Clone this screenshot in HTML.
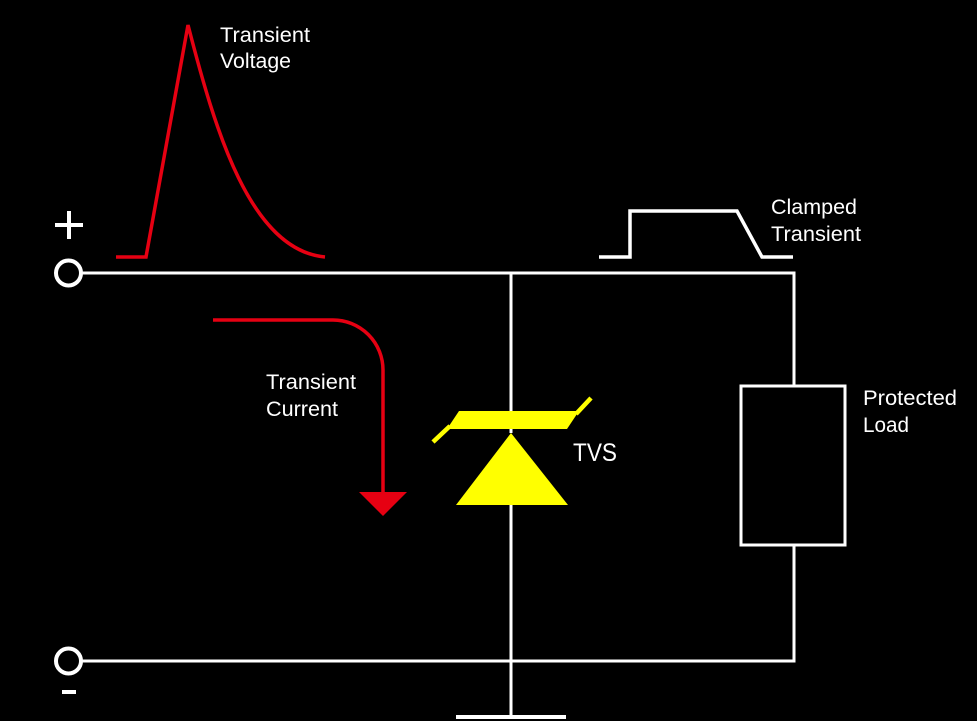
<!DOCTYPE html>
<html>
<head>
<meta charset="utf-8">
<style>
  html, body { margin:0; padding:0; background:#000; }
  body { width:977px; height:721px; overflow:hidden; }
  svg { display:block; }
  text { font-family: "Liberation Sans", "DejaVu Sans", sans-serif; fill:#fff; }
</style>
</head>
<body>
<svg width="977" height="721" viewBox="0 0 977 721" xmlns="http://www.w3.org/2000/svg">
  <rect width="977" height="721" fill="#000"/>

  <!-- Wires -->
  <g stroke="#fff" stroke-width="3" fill="none">
    <line x1="81" y1="273" x2="795.5" y2="273"/>
    <line x1="794" y1="273" x2="794" y2="386"/>
    <line x1="794" y1="545" x2="794" y2="662.5"/>
    <line x1="81" y1="661" x2="795.5" y2="661"/>
    <line x1="511" y1="273" x2="511" y2="433"/>
    <line x1="511" y1="505" x2="511" y2="717"/>
    <rect x="741" y="386" width="104" height="159"/>
  </g>
  <!-- Ground bar -->
  <line x1="456" y1="717" x2="566" y2="717" stroke="#fff" stroke-width="4"/>

  <!-- Terminals -->
  <circle cx="68.5" cy="273" r="12.5" stroke="#fff" stroke-width="4" fill="#000"/>
  <circle cx="68.5" cy="661" r="12.5" stroke="#fff" stroke-width="4" fill="#000"/>
  <!-- Plus -->
  <line x1="55" y1="225" x2="83" y2="225" stroke="#fff" stroke-width="4"/>
  <line x1="69" y1="211" x2="69" y2="239" stroke="#fff" stroke-width="4"/>
  <!-- Minus -->
  <line x1="62" y1="692" x2="76" y2="692" stroke="#fff" stroke-width="4"/>

  <!-- Transient voltage waveform -->
  <path d="M116,257 H146 L188,25 C215,130 250,250 325,257" stroke="#e60012" stroke-width="3.5" fill="none" stroke-linejoin="miter"/>

  <!-- Clamped transient waveform -->
  <path d="M599,257 H630 V211 H737 L762,257 H793" stroke="#fff" stroke-width="3.5" fill="none"/>

  <!-- Transient current arrow -->
  <path d="M213,320 H333 A50,50 0 0 1 383,370 V494" stroke="#e60012" stroke-width="3.5" fill="none"/>
  <polygon points="359,492 407,492 383,516" fill="#e60012"/>

  <!-- TVS symbol -->
  <polygon points="459,411 579,411 567,429 447,429" fill="#ffff00"/>
  <line x1="433" y1="442" x2="450" y2="426" stroke="#ffff00" stroke-width="4.5"/>
  <line x1="576" y1="414" x2="591" y2="398" stroke="#ffff00" stroke-width="4.5"/>
  <polygon points="511,433 568,505 456,505" fill="#ffff00"/>

  <!-- Labels -->
  <text x="220" y="42" font-size="21" textLength="90" lengthAdjust="spacingAndGlyphs">Transient</text>
  <text x="220" y="68" font-size="21" textLength="71" lengthAdjust="spacingAndGlyphs">Voltage</text>

  <text x="771" y="214" font-size="21" textLength="86" lengthAdjust="spacingAndGlyphs">Clamped</text>
  <text x="771" y="241" font-size="21" textLength="90" lengthAdjust="spacingAndGlyphs">Transient</text>

  <text x="266" y="389" font-size="21" textLength="90" lengthAdjust="spacingAndGlyphs">Transient</text>
  <text x="266" y="416" font-size="21" textLength="72" lengthAdjust="spacingAndGlyphs">Current</text>

  <text x="863" y="405" font-size="21" textLength="94" lengthAdjust="spacingAndGlyphs">Protected</text>
  <text x="863" y="432" font-size="21" textLength="46" lengthAdjust="spacingAndGlyphs">Load</text>

  <text x="573" y="461" font-size="25" textLength="44" lengthAdjust="spacingAndGlyphs">TVS</text>
</svg>
</body>
</html>
